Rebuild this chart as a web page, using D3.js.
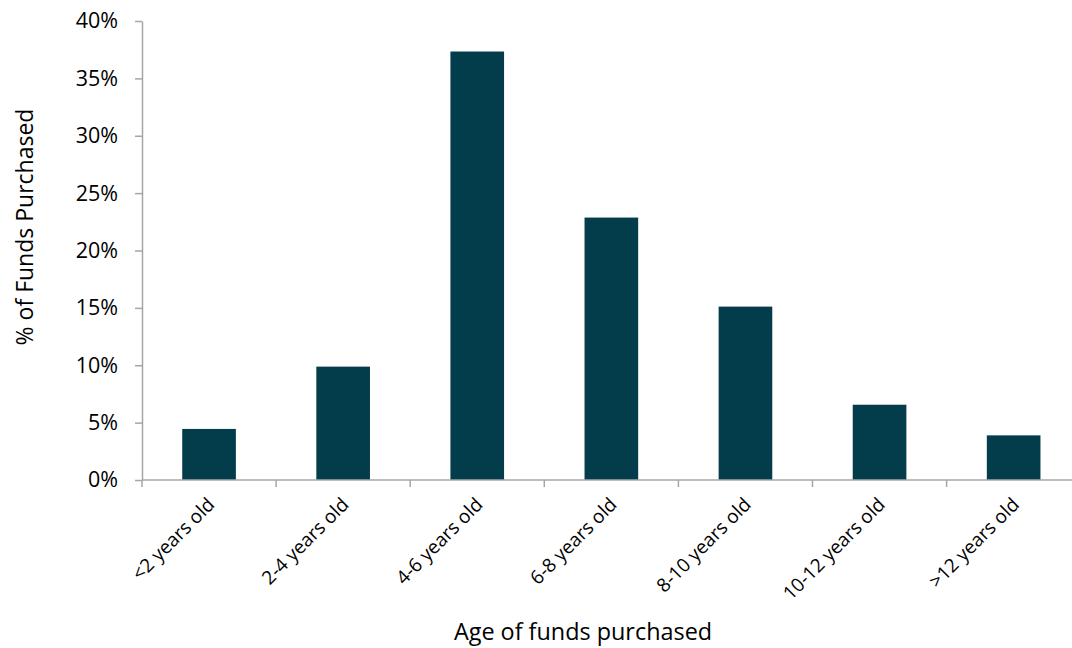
<!DOCTYPE html>
<html>
<head>
<meta charset="utf-8">
<script src="https://cdn.jsdelivr.net/npm/d3@7"></script>
<style>
  html, body { margin: 0; padding: 0; background: #ffffff; }
  svg { display: block; font-family: "Open Sans", sans-serif; }
</style>
</head>
<body>
<svg id="chart" width="1072" height="648"></svg>
<script>
// Share of funds purchased, by fund age bucket
const categories = ["<2 years old", "2-4 years old", "4-6 years old", "6-8 years old", "8-10 years old", "10-12 years old", ">12 years old"];
const shares = [0.0445, 0.0988, 0.3734, 0.2287, 0.1511, 0.0656, 0.0389];
const yTicks = [0, 0.05, 0.10, 0.15, 0.20, 0.25, 0.30, 0.35, 0.40];

const svg = d3.select("#chart");
const plotLeft = 142, plotTop = 21, plotBottom = 480, bandW = 134.1;
const plotRight = plotLeft + bandW * categories.length;

const x = d3.scaleBand().domain(categories).range([plotLeft, plotRight]).paddingInner(0.6).paddingOuter(0.3);
const y = d3.scaleLinear().domain([0, 0.40]).range([plotBottom, plotTop]);
const axisColor = "#a6a6a6";

// Bars
svg.append("g").selectAll("rect").data(categories).join("rect")
  .attr("x", d => x(d))
  .attr("width", x.bandwidth())
  .attr("y", (d, i) => y(shares[i]))
  .attr("height", (d, i) => plotBottom - y(shares[i]))
  .attr("fill", "#033c4b");

// Y axis
const yAxis = svg.append("g").attr("transform", `translate(${plotLeft},0)`)
  .call(d3.axisLeft(y).tickValues(yTicks).tickFormat(d3.format(".0%")).tickSizeInner(7).tickSizeOuter(0).tickPadding(17));
yAxis.select(".domain").attr("stroke", axisColor).attr("stroke-width", 1.5);
yAxis.selectAll(".tick line").attr("stroke", axisColor).attr("stroke-width", 1.5);
yAxis.selectAll(".tick text").attr("font-size", 21.5).attr("fill", "#000").style("font-family", "'Open Sans', sans-serif");

// X axis: ticks sit on category boundaries
const xg = svg.append("g");
xg.append("line").attr("x1", plotLeft).attr("x2", 1072).attr("y1", plotBottom).attr("y2", plotBottom)
  .attr("stroke", axisColor).attr("stroke-width", 1.5);
const bounds = d3.range(categories.length + 1).map(i => plotLeft + i * bandW);
xg.selectAll("line.tk").data(bounds).join("line").attr("class", "tk")
  .attr("x1", d => d).attr("x2", d => d).attr("y1", plotBottom).attr("y2", plotBottom + 7)
  .attr("stroke", axisColor).attr("stroke-width", 1.5);
xg.selectAll("text").data(categories).join("text")
  .attr("transform", d => `translate(${x(d) + x.bandwidth() / 2 + 2},${plotBottom + 21}) rotate(-45)`)
  .attr("text-anchor", "end")
  .attr("dy", "0.35em")
  .attr("font-size", 19)
  .attr("fill", "#000")
  .text(d => d);

// Axis titles
svg.append("text")
  .attr("transform", `translate(33,227) rotate(-90)`)
  .attr("text-anchor", "middle")
  .attr("font-size", 23)
  .attr("fill", "#000")
  .text("% of Funds Purchased");
svg.append("text")
  .attr("x", 583).attr("y", 640)
  .attr("text-anchor", "middle")
  .attr("font-size", 23.4)
  .attr("fill", "#000")
  .text("Age of funds purchased");
</script>
</body>
</html>
